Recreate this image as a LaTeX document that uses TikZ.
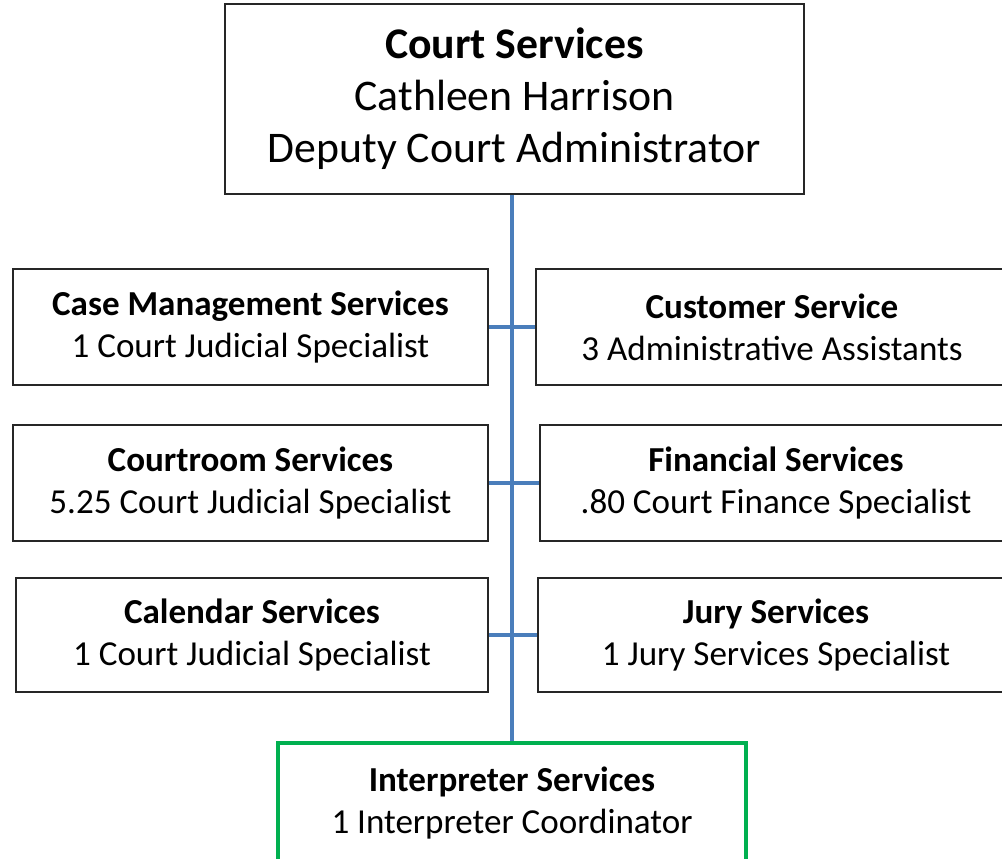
\documentclass[tikz,border=0pt]{standalone}
\usepackage{fontspec}
\setmainfont{Carlito}
\definecolor{lineblue}{HTML}{4A7EBB}
\definecolor{boxgreen}{HTML}{00B050}
\begin{document}
\begin{tikzpicture}[x=0.75pt,y=-0.75pt,
  topbox/.style={draw=black!85,line width=1.6pt,align=center,inner sep=0pt,
    minimum width=434.25pt,minimum height=142.5pt,font=\fontsize{32.8}{39}\selectfont},
  unitbox/.style={draw=black!85,line width=1.6pt,align=center,inner sep=0pt,
    minimum height=87pt,font=\fontsize{26.3}{31.5}\selectfont},
  greenbox/.style={unitbox,draw=boxgreen,line width=2.3pt},
  link/.style={draw=lineblue,line width=2.6pt}]
\useasboundingbox (0,0) rectangle (1002,859);
\node[topbox] (top) at (514.5,99) {\textbf{Court Services}\\Cathleen Harrison\\Deputy Court Administrator};
\node[unitbox,minimum width=356.25pt] (case) at (250.5,327) {\textbf{Case Management Services}\\1 Court Judicial Specialist};
\node[unitbox,minimum width=354pt] (cust) at (772,327) {\textbf{Customer Service}\\3 Administrative Assistants};
\node[unitbox,minimum width=356.25pt] (court) at (250.5,483) {\textbf{Courtroom Services}\\5.25 Court Judicial Specialist};
\node[unitbox,minimum width=354pt] (fin) at (776,483) {\textbf{Financial Services}\\.80 Court Finance Specialist};
\node[unitbox,minimum width=354pt,minimum height=85.5pt] (cal) at (252,635) {\textbf{Calendar Services}\\1 Court Judicial Specialist};
\node[unitbox,minimum width=357pt,minimum height=85.5pt] (jury) at (776,635) {\textbf{Jury Services}\\1 Jury Services Specialist};
\node[greenbox,minimum width=351pt,minimum height=90pt] (interp) at (512,803) {\textbf{Interpreter Services}\\1 Interpreter Coordinator};
\path[link] (interp.north |- top.south) -- (interp.north);
\path[link] (case.east) -- (cust.west);
\path[link] (court.east) -- (fin.west);
\path[link] (cal.east) -- (jury.west);
\end{tikzpicture}
\end{document}
